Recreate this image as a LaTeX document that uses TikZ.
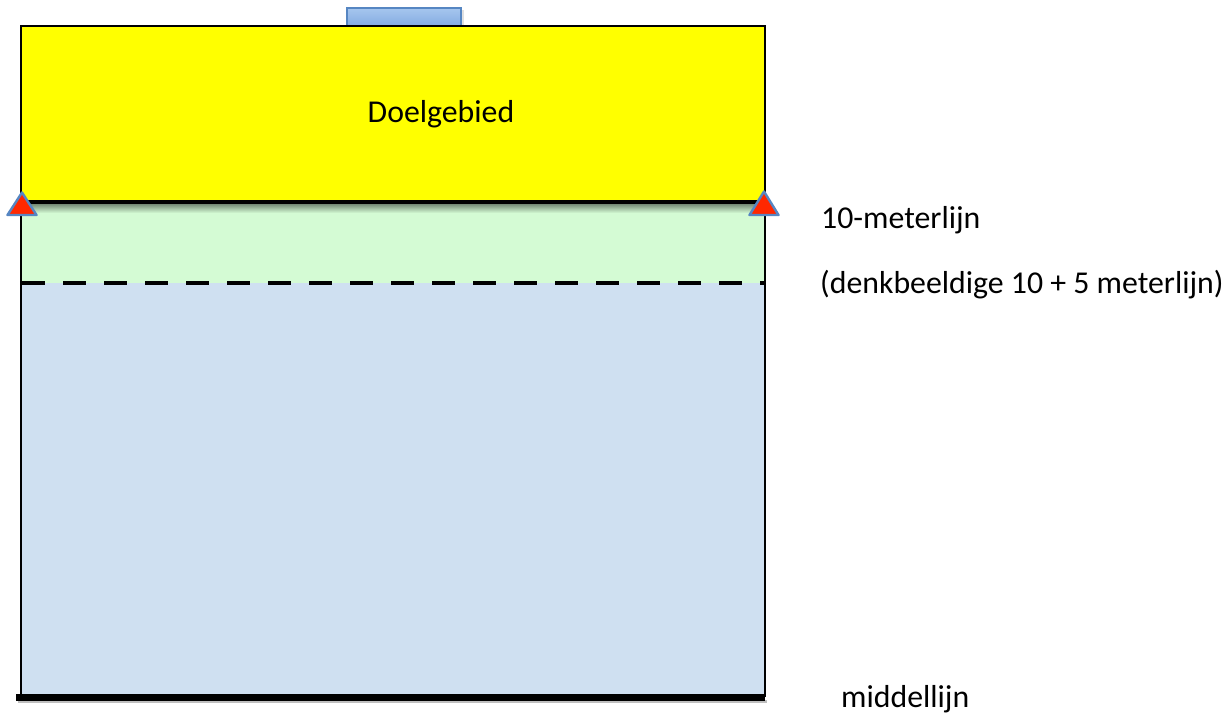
\documentclass[tikz,border=0pt]{standalone}
\usepackage{fontspec}
\setmainfont{Carlito}
\definecolor{goalyellow}{RGB}{255,255,0}
\definecolor{zonegreen}{RGB}{212,251,212}
\definecolor{fieldblue}{RGB}{207,224,241}
\definecolor{tabtop}{RGB}{166,198,238}
\definecolor{tabbottom}{RGB}{130,170,225}
\definecolor{edgeblue}{RGB}{86,134,194}
\definecolor{conered}{RGB}{255,40,0}
\tikzset{
  label text/.style={font=\fontsize{31.8}{38}\selectfont, inner sep=0pt, anchor=base west},
  cone/.style={fill=conered, draw=edgeblue, line width=2.4pt, line join=round},
  heavy line/.style={line width=4.5pt},
}
\begin{document}
\begin{tikzpicture}[x=1pt,y=-1pt]
  \useasboundingbox (0,0) rectangle (1231,717);

  % goal box on the back line
  \fill[black!12] (349,10) rectangle (464,28);
  \shade[top color=tabtop, bottom color=tabbottom, draw=edgeblue, line width=1.6pt]
    (347,8) rectangle (461,27);

  % zones of the half field
  \fill[fieldblue] (21,283) rectangle (765,697);
  \fill[zonegreen] (21,202) rectangle (765,283);
  \fill[goalyellow] (21,26) rectangle (765,202);

  % soft shadow under the 10 metre line
  \shade[top color=black!45!zonegreen, bottom color=zonegreen] (21,204) rectangle (765,213);

  % outline of the field
  \draw[line width=2.5pt] (21,697) -- (21,26) -- (765,26) -- (765,697);

  % 10 metre line, imaginary 10+5 metre line and centre line
  \draw[heavy line] (21,202) -- (765,202);
  \draw[line width=4pt, dash pattern=on 23pt off 18pt] (22,283) -- (765,283);
  \fill[black!25] (18,700) rectangle (767,703);
  \draw[line width=7pt] (16,697.5) -- (765,697.5);

  % cones at the ends of the 10 metre line
  \draw[cone] (22,192.5) -- (36.5,215) -- (7.5,215) -- cycle;
  \draw[cone] (764,191.5) -- (778.5,215) -- (749.5,215) -- cycle;

  % texts
  \node[label text, anchor=base] (goal) at (441,122) {Doelgebied};
  \node[label text] (tenline) at (821,228) {10-meterlijn};
  \node[label text] (fifteenline) at (820,293) {(denkbeeldige 10 + 5 meterlijn)};
  \node[label text] (midline) at (841,707) {middellijn};
\end{tikzpicture}
\end{document}
